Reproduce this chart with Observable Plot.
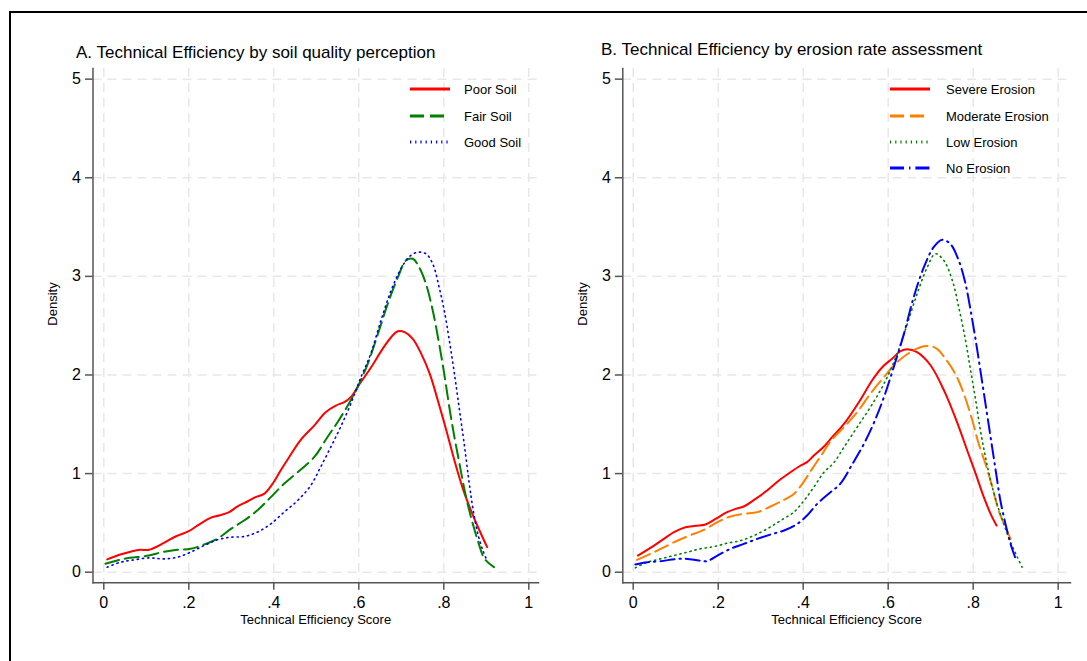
<!DOCTYPE html>
<html>
<head>
<meta charset="utf-8">
<script src="https://cdn.jsdelivr.net/npm/d3@7"></script>
<script src="https://cdn.jsdelivr.net/npm/@observablehq/plot@0.6"></script>
<style>
  html, body { margin: 0; padding: 0; background: #fff; }
  body { width: 1087px; height: 661px; overflow: hidden; position: relative; font-family: "Liberation Sans", Arial, sans-serif; }
  .frame { position: absolute; left: 9px; top: 11px; width: 1200px; height: 800px; border: 2px solid #000; }
  .panel { position: absolute; top: 0; }
  .title { position: absolute; font-size: 17px; line-height: 17px; color: #000; white-space: nowrap; }
  .leg { position: absolute; height: 16px; display: flex; align-items: center; font-size: 13px; color: #000; white-space: nowrap; }
  .leg svg { display: block; }
</style>
</head>
<body>
<div class="frame"></div>
<div id="root"></div>
<script>
// ---- tick labels ----
const xTicks = [0, 0.2, 0.4, 0.6, 0.8, 1];
const xTickLabels = ["0", ".2", ".4", ".6", ".8", "1"];
const yTicks = [0, 1, 2, 3, 4, 5];

// ---- Panel A: soil quality perception (x = TE score, y = density) ----
const soilNames = ["Poor Soil", "Fair Soil", "Good Soil"];
const poorSoil = [[0.008,0.13],[0.039,0.179],[0.067,0.213],[0.086,0.227],[0.106,0.227],[0.137,0.287],[0.169,0.362],[0.200,0.416],[0.224,0.483],[0.251,0.551],[0.271,0.575],[0.295,0.609],[0.314,0.666],[0.338,0.717],[0.357,0.761],[0.377,0.794],[0.397,0.896],[0.416,1.031],[0.436,1.166],[0.463,1.340],[0.495,1.487],[0.522,1.623],[0.546,1.690],[0.566,1.724],[0.581,1.775],[0.601,1.903],[0.629,2.079],[0.656,2.265],[0.676,2.383],[0.692,2.444],[0.708,2.434],[0.727,2.366],[0.747,2.214],[0.767,2.011],[0.786,1.741],[0.806,1.437],[0.825,1.133],[0.845,0.845],[0.864,0.625],[0.884,0.423],[0.902,0.254]];
const fairSoil = [[0.004,0.085],[0.047,0.135],[0.106,0.169],[0.137,0.203],[0.173,0.227],[0.204,0.237],[0.240,0.287],[0.267,0.338],[0.299,0.439],[0.330,0.524],[0.361,0.625],[0.393,0.761],[0.424,0.896],[0.456,1.014],[0.495,1.166],[0.526,1.369],[0.550,1.521],[0.574,1.690],[0.597,1.876],[0.621,2.113],[0.645,2.417],[0.668,2.721],[0.692,2.992],[0.711,3.161],[0.727,3.178],[0.742,3.093],[0.758,2.924],[0.774,2.654],[0.789,2.316],[0.801,2.011],[0.813,1.673],[0.825,1.369],[0.837,1.099],[0.849,0.828],[0.864,0.558],[0.880,0.321],[0.896,0.135],[0.918,0.051]];
const goodSoil = [[0.008,0.051],[0.039,0.101],[0.071,0.125],[0.106,0.145],[0.141,0.135],[0.173,0.152],[0.204,0.203],[0.236,0.270],[0.267,0.328],[0.299,0.355],[0.330,0.362],[0.361,0.406],[0.393,0.490],[0.424,0.609],[0.456,0.727],[0.487,0.880],[0.510,1.065],[0.534,1.268],[0.557,1.471],[0.581,1.707],[0.605,1.978],[0.628,2.214],[0.652,2.552],[0.676,2.857],[0.699,3.076],[0.719,3.201],[0.739,3.245],[0.758,3.229],[0.774,3.127],[0.789,2.890],[0.801,2.654],[0.813,2.350],[0.825,2.011],[0.837,1.640],[0.849,1.268],[0.860,0.896],[0.868,0.659],[0.880,0.389],[0.892,0.220],[0.900,0.135]];

// ---- Panel B: erosion rate assessment ----
const erosionNames = ["Severe Erosion", "Moderate Erosion", "Low Erosion", "No Erosion"];
const severeErosion = [[0.011,0.169],[0.049,0.270],[0.072,0.338],[0.096,0.406],[0.123,0.456],[0.147,0.470],[0.170,0.483],[0.194,0.541],[0.221,0.609],[0.241,0.642],[0.260,0.666],[0.288,0.744],[0.315,0.828],[0.343,0.930],[0.370,1.014],[0.394,1.082],[0.409,1.116],[0.425,1.183],[0.449,1.275],[0.468,1.369],[0.496,1.504],[0.531,1.724],[0.562,1.944],[0.586,2.079],[0.609,2.164],[0.629,2.241],[0.645,2.262],[0.668,2.231],[0.700,2.096],[0.735,1.809],[0.762,1.521],[0.786,1.234],[0.806,0.997],[0.825,0.761],[0.841,0.592],[0.855,0.473]];
const moderateErosion = [[0.009,0.125],[0.049,0.203],[0.088,0.287],[0.127,0.362],[0.166,0.429],[0.198,0.507],[0.229,0.565],[0.260,0.592],[0.292,0.609],[0.323,0.666],[0.355,0.734],[0.378,0.794],[0.398,0.896],[0.421,1.048],[0.445,1.200],[0.464,1.325],[0.496,1.471],[0.527,1.623],[0.558,1.809],[0.590,1.978],[0.621,2.130],[0.652,2.231],[0.676,2.282],[0.700,2.292],[0.715,2.265],[0.735,2.164],[0.758,2.011],[0.778,1.809],[0.798,1.538],[0.813,1.302],[0.829,1.099],[0.845,0.862],[0.860,0.625],[0.876,0.456],[0.888,0.338]];
const lowErosion = [[0.005,0.044],[0.033,0.101],[0.064,0.135],[0.096,0.169],[0.127,0.203],[0.158,0.237],[0.190,0.260],[0.221,0.294],[0.253,0.321],[0.284,0.372],[0.315,0.439],[0.347,0.524],[0.378,0.609],[0.402,0.727],[0.425,0.862],[0.449,1.014],[0.472,1.110],[0.496,1.268],[0.527,1.471],[0.558,1.673],[0.590,1.910],[0.621,2.214],[0.645,2.519],[0.668,2.823],[0.692,3.093],[0.711,3.229],[0.731,3.161],[0.751,2.958],[0.766,2.688],[0.782,2.350],[0.794,2.045],[0.806,1.741],[0.817,1.437],[0.829,1.166],[0.841,0.930],[0.856,0.693],[0.872,0.490],[0.888,0.304],[0.904,0.152],[0.915,0.051]];
const noErosion = [[0.005,0.078],[0.033,0.101],[0.064,0.112],[0.104,0.135],[0.127,0.135],[0.155,0.118],[0.174,0.112],[0.198,0.169],[0.229,0.237],[0.260,0.287],[0.292,0.338],[0.323,0.382],[0.355,0.423],[0.386,0.490],[0.409,0.575],[0.433,0.693],[0.464,0.810],[0.488,0.900],[0.516,1.099],[0.543,1.302],[0.567,1.521],[0.590,1.775],[0.613,2.079],[0.637,2.417],[0.660,2.789],[0.684,3.093],[0.707,3.296],[0.727,3.371],[0.746,3.330],[0.766,3.161],[0.782,2.924],[0.794,2.654],[0.806,2.350],[0.817,2.045],[0.829,1.707],[0.841,1.369],[0.853,1.031],[0.864,0.727],[0.876,0.490],[0.888,0.287],[0.900,0.135]];

// ---- styles ----
const FONT = '"Liberation Sans", Arial, sans-serif';
const styleA = [
  {name: soilNames[0], data: poorSoil, stroke: "#ff0000", dash: null, width: 2},
  {name: soilNames[1], data: fairSoil, stroke: "#008000", dash: "14,6", width: 2},
  {name: soilNames[2], data: goodSoil, stroke: "#0000ff", dash: "1.2,4", width: 1.6}
];
const styleB = [
  {name: erosionNames[0], data: severeErosion, stroke: "#ff0000", dash: null, width: 2},
  {name: erosionNames[1], data: moderateErosion, stroke: "#ff8000", dash: "14,6", width: 2},
  {name: erosionNames[2], data: lowErosion, stroke: "#008000", dash: "1.2,4", width: 1.6},
  {name: erosionNames[3], data: noErosion, stroke: "#0000ff", dash: "14,5,1.4,5", width: 2}
];

const yDomain = [-0.1075, 5.108];

function panel({series, width, marginLeft, marginRight, xDomain}) {
  const lines = series.map(s => Plot.line(s.data, {
    x: d => d[0], y: d => d[1], stroke: s.stroke, strokeWidth: s.width,
    strokeDasharray: s.dash || undefined, curve: "catmull-rom"
  }));
  return Plot.plot({
    width, height: 661,
    marginLeft, marginRight, marginTop: 68, marginBottom: 78.7,
    x: {domain: xDomain},
    y: {domain: yDomain},
    style: {fontFamily: FONT, background: "transparent", color: "#000", overflow: "visible"},
    marks: [
      Plot.gridX(xTicks, {stroke: "#e8e8e8", strokeOpacity: 1, strokeWidth: 1.5, strokeDasharray: "9,6"}),
      Plot.gridY(yTicks, {stroke: "#e8e8e8", strokeOpacity: 1, strokeWidth: 1.5, strokeDasharray: "9,6"}),
      Plot.frame({anchor: "left", stroke: "#555", strokeWidth: 1.5}),
      Plot.frame({anchor: "bottom", stroke: "#555", strokeWidth: 1.5}),
      ...lines,
      Plot.axisX(xTicks, {tickFormat: d => xTickLabels[xTicks.indexOf(d)], tickSize: 7.5, tickPadding: 6.5,
        fontSize: 16, stroke: "#555", strokeWidth: 1.5, label: null}),
      Plot.axisY(yTicks, {tickFormat: d => String(d), tickSize: 7.5, tickPadding: 4.5,
        fontSize: 16, stroke: "#555", strokeWidth: 1.5, label: null}),
      Plot.text(["Density"], {text: d => d, frameAnchor: "left", rotate: -90, dx: -40, fontSize: 13, fill: "#000"}),
      Plot.text(["Technical Efficiency Score"], {text: d => d, frameAnchor: "bottom", dy: 41, fontSize: 13, fill: "#000"})
    ]
  });
}

const root = document.getElementById("root");
function place(el, left) {
  const wrap = document.createElement("div");
  wrap.className = "panel";
  wrap.style.left = left + "px";
  wrap.appendChild(el);
  root.appendChild(wrap);
}
place(panel({series: styleA, width: 545, marginLeft: 92.5, marginRight: 7, xDomain: [-0.0254, 1.0228]}), 0);
place(panel({series: styleB, width: 557, marginLeft: 92.3, marginRight: 17, xDomain: [-0.0245, 1.029]}), 530);

function addTitle(text, left, top) {
  const d = document.createElement("div");
  d.className = "title";
  d.style.left = left + "px"; d.style.top = top + "px";
  d.textContent = text;
  root.appendChild(d);
}
addTitle("A. Technical Efficiency by soil quality perception", 76, 43.6);
addTitle("B. Technical Efficiency by erosion rate assessment", 601, 41.3);

function addLegend(series, lineLeft, textLeft, tops) {
  series.forEach((s, i) => {
    const row = document.createElement("div");
    row.className = "leg";
    row.style.left = lineLeft + "px";
    row.style.top = (tops[i] - 8) + "px";
    const ns = "http://www.w3.org/2000/svg";
    const svg = document.createElementNS(ns, "svg");
    svg.setAttribute("width", 40); svg.setAttribute("height", 6);
    const ln = document.createElementNS(ns, "line");
    ln.setAttribute("x1", 0); ln.setAttribute("x2", 40);
    ln.setAttribute("y1", 3); ln.setAttribute("y2", 3);
    ln.setAttribute("stroke", s.stroke);
    ln.setAttribute("stroke-width", 3);
    if (s.dash) ln.setAttribute("stroke-dasharray", s.dash);
    svg.appendChild(ln);
    row.appendChild(svg);
    const t = document.createElement("span");
    t.textContent = s.name;
    t.style.marginLeft = (textLeft - lineLeft - 40) + "px";
    row.appendChild(t);
    root.appendChild(row);
  });
}
addLegend(styleA, 410, 464, [89.3, 116, 142]);
addLegend(styleB, 890, 946, [89.3, 116, 142, 168]);
</script>
</body>
</html>
